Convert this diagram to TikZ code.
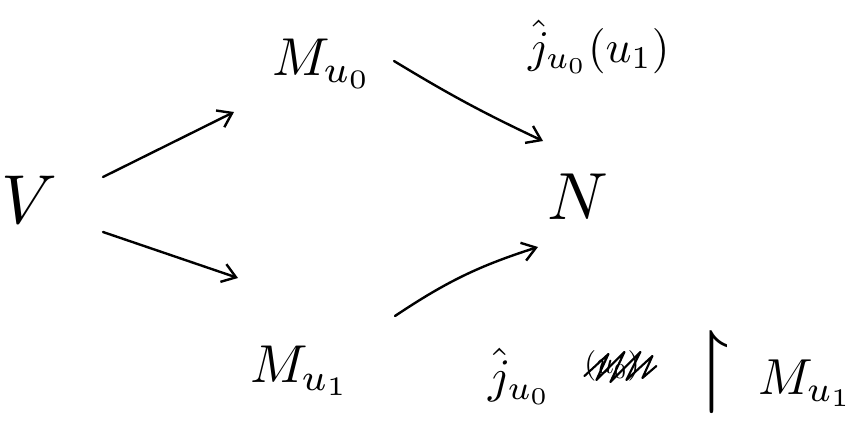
\documentclass[tikz,border=0pt]{standalone}
\usepackage{amssymb}
\usetikzlibrary{arrows.meta,calc}
\begin{document}
\begin{tikzpicture}[x=0.75pt,y=-0.75pt,
  lbl/.style={inner sep=0pt,outer sep=0pt},
  arr/.style={line width=1.8pt,line cap=round,-{Straight Barb[length=10pt,width=14pt,line width=1.8pt]}},
  scrib/.style={line width=1.6pt,line cap=round,line join=round}]
\useasboundingbox (0,0) rectangle (860,432);
% objects
\node[lbl,scale=5.2] (V) at (29,200) {$V$};
\node[lbl,scale=4,anchor=base west] (Mu0) at (272,75) {$M_{u_0}$};
\node[lbl,scale=4,anchor=base west] (Mu1) at (250,382) {$M_{u_1}$};
\node[lbl,scale=5,anchor=center] (N) at (578,197) {$N$};
% labels
\node[lbl,scale=3.4,anchor=base west] (jtop) at (528,62) {$\hat{j}_{u_0}(u_1)$};
\node[lbl,scale=3.6,anchor=base west] (jbot) at (488,392) {$\hat{j}_{u_0}$};
\node[lbl,scale=2.3,anchor=center] (cross) at (612,366) {$(u_0)$};
\node[lbl,scale=7,anchor=center] (restr) at (712,372) {$\restriction$};
\node[lbl,scale=3.8,anchor=base west] (Mb) at (758,394) {$M_{u_1}$};
% scribble over the struck-out text
\draw[scrib] ($(cross.west)+(0,10)$) -- ++(24,-22) -- ++(-12,26) -- ++(28,-28) -- ++(-14,30) -- ++(30,-30) -- ++(-14,28) -- ++(26,-24) -- ++(-10,22) -- ++(14,-12);
% arrows
\draw[arr] ([shift={(74,-23)}]V.center) -- ([shift={(-38,37)}]Mu0.base west);
\draw[arr] ([shift={(74,32)}]V.center) -- ([shift={(-12,-104)}]Mu1.base west);
\draw[arr] ([shift={(122,-14)}]Mu0.base west) to[bend right=3] ([shift={(-35,-56)}]N.center);
\draw[arr] ([shift={(145,-66)}]Mu1.base west) to[bend left=8] ([shift={(-40,50)}]N.center);
\end{tikzpicture}
\end{document}
